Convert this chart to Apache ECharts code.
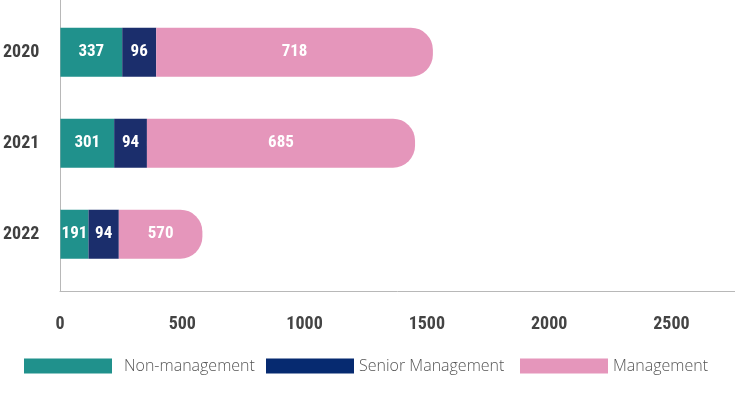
<!DOCTYPE html>
<html>
<head>
<meta charset="utf-8">
<script src="https://cdn.jsdelivr.net/npm/echarts@6/dist/echarts.min.js"></script>
<style>html,body{margin:0;padding:0;background:#fff}#c{width:735px;height:406px}</style>
</head>
<body>
<div id="c"></div>
<script>
// Categories (top to bottom in picture: 2020, 2021, 2022)
const years = ['2022', '2021', '2020'];
// Numbers printed on the segments
const nonMgmtLabels = [191, 301, 337];
const seniorLabels = [94, 94, 96];
const mgmtLabels = [570, 685, 718];
// Segment lengths as drawn against the x axis
const nonMgmtLength = [115, 220, 253];
const seniorLength = [124, 134, 139];
const mgmtLength = [342, 1097, 1132];
// Axis ticks
const xMax = 2760;
const xInterval = 500;

const condensed = "'Liberation Sans Narrow','Roboto Condensed','DejaVu Sans Condensed','Noto Sans',sans-serif";
const lightFont = "'Open Sans','Noto Sans',sans-serif";

const C_TEAL = '#20918c', C_NAVY = '#1b2e6c', C_PINK = '#e596bb';

function seg(name, lengths, labels, color, radius) {
  return {
    name: name, type: 'bar', stack: 'total', xAxisIndex: 0, yAxisIndex: 0,
    barWidth: 49, data: lengths,
    itemStyle: { color: color, borderRadius: radius },
    label: {
      show: true, position: 'inside', color: '#fff',
      fontFamily: condensed, fontWeight: 'bold', fontSize: 17,
      formatter: p => String(labels[p.dataIndex])
    },
    emphasis: { disabled: true }
  };
}

function legend(name, left, color, padLeft) {
  return {
    show: true, left: left, top: 358, padding: 0, itemWidth: 88, itemHeight: 15,
    icon: 'rect', selectedMode: false,
    data: [{ name: name, itemStyle: { color: color, borderWidth: 0 } }],
    textStyle: { fontFamily: lightFont, fontWeight: 300, fontSize: 16, color: '#555', padding: [0, 0, 0, padLeft] }
  };
}

const chart = echarts.init(document.getElementById('c'), null, { renderer: 'canvas' });
chart.setOption({
  animation: false,
  backgroundColor: '#fff',
  grid: [
    { left: 60, right: 0, top: 6.7, height: 273, containLabel: false },
    { left: 60, right: 0, top: 0, bottom: 114.5, containLabel: false }
  ],
  xAxis: [
    { gridIndex: 0, type: 'value', min: 0, max: xMax, interval: xInterval, show: false },
    {
      gridIndex: 1, type: 'value', min: 0, max: xMax, interval: xInterval,
      axisLine: { show: true, lineStyle: { color: '#b8b8b8', width: 1 } },
      axisTick: { show: false }, splitLine: { show: false },
      axisLabel: {
        show: true, margin: 24, showMaxLabel: false,
        formatter: v => String(v),
        fontFamily: condensed, fontWeight: 'bold', fontSize: 18, color: '#444'
      }
    }
  ],
  yAxis: [
    {
      gridIndex: 0, type: 'category', data: years,
      axisLine: { show: false }, axisTick: { show: false },
      axisLabel: { margin: 21, fontFamily: condensed, fontWeight: 'bold', fontSize: 18, color: '#404040' }
    },
    {
      gridIndex: 1, type: 'value', min: 0, max: 1,
      axisLine: { show: true, lineStyle: { color: '#b8b8b8', width: 1 } },
      axisTick: { show: false }, axisLabel: { show: false }, splitLine: { show: false }
    }
  ],
  legend: [
    legend('Non-management', 24, C_TEAL, 7),
    legend('Senior Management', 266, '#062a70', 0),
    legend('Management', 520, C_PINK, 0)
  ],
  series: [
    seg('Non-management', nonMgmtLength, nonMgmtLabels, C_TEAL, 0),
    seg('Senior Management', seniorLength, seniorLabels, C_NAVY, 0),
    seg('Management', mgmtLength, mgmtLabels, C_PINK, [0, 22, 22, 0])
  ]
});
</script>
</body>
</html>
